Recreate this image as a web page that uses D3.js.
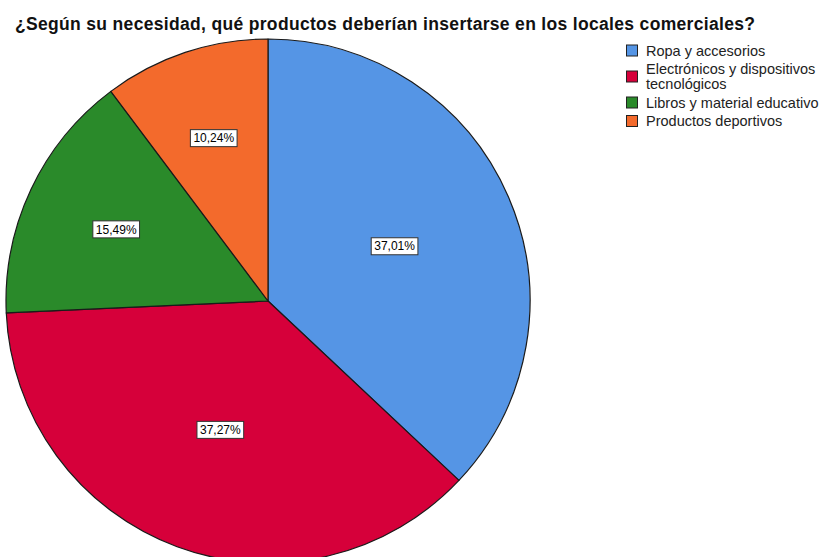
<!DOCTYPE html>
<html>
<head>
<meta charset="utf-8">
<script src="https://cdn.jsdelivr.net/npm/d3@7"></script>
<style>
  html, body { margin: 0; padding: 0; background: #fff; overflow: hidden; }
  svg { display: block; font-family: "Liberation Sans", Arial, sans-serif; }
</style>
</head>
<body>
<svg id="chart" width="823" height="557"></svg>
<script>
// Survey answers, share of respondents (%)
const title = "¿Según su necesidad, qué productos deberían insertarse en los locales comerciales?";
const categories = [
  "Ropa y accesorios",
  "Electrónicos y dispositivos tecnológicos",
  "Libros y material educativo",
  "Productos deportivos"
];
const legendLines = [
  ["Ropa y accesorios"],
  ["Electrónicos y dispositivos", "tecnológicos"],
  ["Libros y material educativo"],
  ["Productos deportivos"]
];
const percentages = [37.01, 37.27, 15.49, 10.24];
const colors = ["#5595e5", "#d6003a", "#2a8a2a", "#f36a2c"];

const svg = d3.select("#chart");

// Title
svg.append("text")
  .attr("x", 15)
  .attr("y", 30)
  .attr("font-size", 17.5)
  .attr("font-weight", "bold")
  .attr("fill", "#111")
  .attr("textLength", 740)
  .attr("lengthAdjust", "spacing")
  .text(title);

// Pie
const cx = 268, cy = 301, R = 262;
const data = categories.map((c, i) => ({ name: c, value: percentages[i], color: colors[i] }));

const pie = d3.pie().value(d => d.value).sort(null);
const arcs = pie(data);
const arc = d3.arc().innerRadius(0).outerRadius(R);

const g = svg.append("g").attr("transform", `translate(${cx},${cy})`);

g.selectAll("path.slice")
  .data(arcs)
  .join("path")
  .attr("class", "slice")
  .attr("d", arc)
  .attr("fill", d => d.data.color)
  .attr("stroke", "#1a1a1a")
  .attr("stroke-width", 1.2)
  .attr("stroke-linejoin", "round");

// Percentage labels at the centroid of each sector's area
const fmt = v => d3.format(".2f")(v).replace(".", ",") + "%";
const labels = g.selectAll("g.lbl")
  .data(arcs)
  .join("g")
  .attr("class", "lbl")
  .attr("transform", d => {
    const a = d.endAngle - d.startAngle;
    const mid = (d.startAngle + d.endAngle) / 2;
    const r = 4 * R * Math.sin(a / 2) / (3 * a);
    return `translate(${r * Math.sin(mid)},${-r * Math.cos(mid)})`;
  });

labels.each(function(d) {
  const sel = d3.select(this);
  const t = sel.append("text")
    .attr("text-anchor", "middle")
    .attr("dy", "0.35em")
    .attr("font-size", 12)
    .attr("fill", "#000")
    .text(fmt(d.data.value));
  const w = t.node().getComputedTextLength();
  sel.insert("rect", "text")
    .attr("x", -w / 2 - 3)
    .attr("y", -8.5)
    .attr("width", w + 6)
    .attr("height", 17)
    .attr("fill", "#fff")
    .attr("stroke", "#333")
    .attr("stroke-width", 1);
});

// Legend
const legend = svg.append("g").attr("transform", "translate(626,0)");
const lineH = 15, itemGap = 3.5;
let y = 50.5;
legendLines.forEach((lines, i) => {
  const top = y;
  const item = legend.append("g");
  lines.forEach((ln, j) => {
    item.append("text")
      .attr("x", 20)
      .attr("y", top + j * lineH)
      .attr("dy", "0.35em")
      .attr("font-size", 14.5)
      .attr("fill", "#222")
      .text(ln);
  });
  const mid = top + (lines.length - 1) * lineH / 2;
  item.append("rect")
    .attr("x", 0.5)
    .attr("y", mid - 5.5)
    .attr("width", 11)
    .attr("height", 11)
    .attr("fill", colors[i])
    .attr("stroke", "#222")
    .attr("stroke-width", 1);
  y += lines.length * lineH + itemGap;
});
</script>
</body>
</html>
